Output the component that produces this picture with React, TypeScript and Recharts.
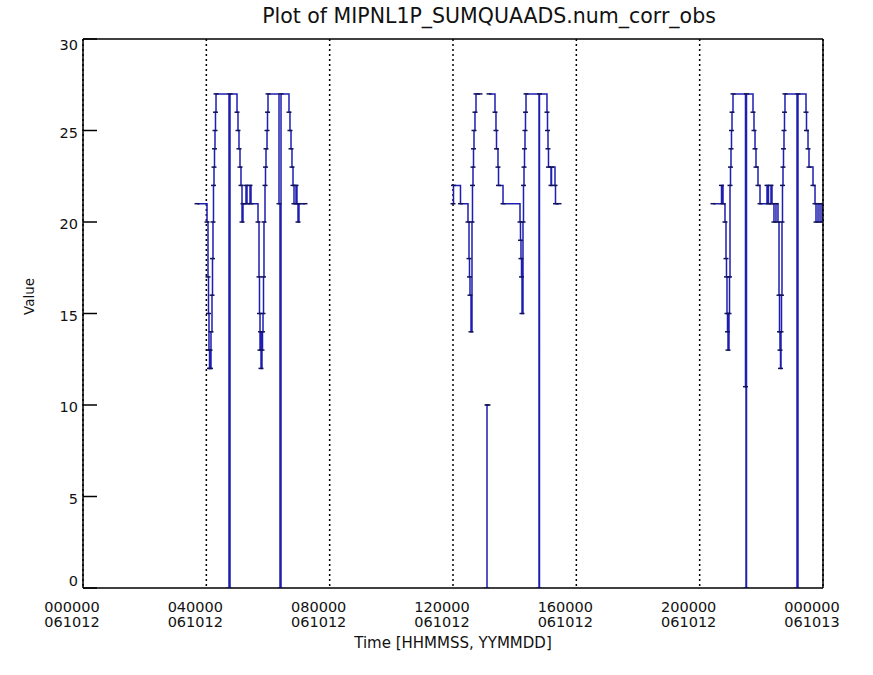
import { LineChart, Line, XAxis, YAxis, CartesianGrid, ReferenceLine } from "recharts";

// [hours since 000000 061012, num_corr_obs]
const pass1: [number, number | null][] = [
  [3.697, 21], [4.022, 20], [4.054, 17], [4.07, 15], [4.086, 13], [4.103, 12], [4.119, 13], [4.135, 12],
  [4.151, 14], [4.184, 16], [4.2, 18], [4.216, 20], [4.232, 22], [4.249, 23], [4.265, 24], [4.281, 25],
  [4.297, 26], [4.314, 27], [4.735, 0], [4.768, 27], [4.995, 26], [5.027, 25], [5.059, 24], [5.092, 23],
  [5.124, 22], [5.157, 20], [5.189, 21], [5.286, 22], [5.319, 21], [5.416, 22], [5.449, 21], [5.676, 20],
  [5.708, 17], [5.724, 15], [5.741, 13], [5.757, 14], [5.773, 12], [5.805, 13], [5.822, 14], [5.838, 15],
  [5.854, 17], [5.87, 20], [5.903, 22], [5.919, 23], [5.935, 24], [5.968, 25], [5.984, 26], [6.0, 27],
  [6.357, 21], [6.389, 0], [6.422, 27], [6.681, 26], [6.713, 25], [6.746, 24], [6.778, 23], [6.811, 22],
  [6.843, 21], [6.908, 22], [6.94, 21], [6.973, 20], [7.005, 21], [7.2, 21],
];

const pass2: [number, number | null][] = [
  [12.0, 21], [12.016, 22], [12.243, 21], [12.486, 20], [12.519, 18], [12.535, 17], [12.551, 16], [12.584, 14],
  [12.616, 20], [12.632, 22], [12.649, 23], [12.665, 24], [12.681, 25], [12.713, 26], [12.746, 27], [12.875, 27],
  [12.973, null], [13.086, 0], [13.103, 10], [13.135, 10], [13.151, null],
  [13.168, 27], [13.362, 26], [13.394, 25], [13.411, 24], [13.459, 23], [13.476, 22], [13.622, 21], [14.173, 20],
  [14.189, 19], [14.205, 18], [14.222, 17], [14.238, 15], [14.27, 20], [14.286, 22], [14.303, 23], [14.319, 24],
  [14.335, 25], [14.351, 26], [14.368, 27], [14.789, 0], [14.805, 27], [15.048, 26], [15.065, 25], [15.081, 24],
  [15.097, 23], [15.178, 22], [15.195, 23], [15.308, 22], [15.324, 21], [15.438, 21],
];

const pass3: [number, number | null][] = [
  [20.432, 21], [20.708, 22], [20.757, 21], [20.821, 20], [20.854, 18], [20.87, 17], [20.886, 15], [20.903, 14],
  [20.919, 13], [20.951, 15], [20.968, 17], [20.984, 22], [21.0, 23], [21.016, 24], [21.032, 25], [21.049, 26],
  [21.081, 27], [21.486, 11], [21.503, 0], [21.519, 27], [21.73, 26], [21.762, 25], [21.795, 24], [21.827, 23],
  [21.892, 22], [21.957, 21], [22.184, 22], [22.232, 21], [22.313, 22], [22.346, 21], [22.41, 20], [22.475, 21],
  [22.54, 20], [22.573, 16], [22.589, 14], [22.605, 13], [22.622, 12], [22.638, 14], [22.654, 16], [22.67, 20],
  [22.686, 22], [22.703, 23], [22.719, 24], [22.735, 25], [22.751, 26], [22.767, 27], [23.157, 0], [23.189, 27],
  [23.449, 26], [23.465, 25], [23.514, 24], [23.546, 23], [23.676, 22], [23.741, 21], [23.773, 20], [23.838, 21],
  [23.903, 20], [23.968, 21], [24.0, 21],
];

const hourTicks = [0, 4, 8, 12, 16, 20, 24];
const timeLabels = ["000000", "040000", "080000", "120000", "160000", "200000", "000000"];
const dateLabels = ["061012", "061012", "061012", "061012", "061012", "061012", "061013"];
const valueTicks = [0, 5, 10, 15, 20, 25, 30];

const rows = [...pass1, [7.3, null], ...pass2, [15.5, null], ...pass3].map(([t, v]) => ({ t, v }));

const font = "DejaVu Sans";
const ink = "#111";

// the two-line labels hang a bit left of their tick, like the IDL original
function TimeTick({ x, y, payload }: any) {
  const i = hourTicks.indexOf(payload.value);
  return (
    <g fontFamily={font} fontSize={14.5} fill={ink}>
      <text x={x - 11} y={y + 16} textAnchor="middle">{timeLabels[i]}</text>
      <text x={x - 11} y={y + 31} textAnchor="middle">{dateLabels[i]}</text>
    </g>
  );
}

// edge labels sit a little inside the frame
function ValueTick({ x, y, payload }: any) {
  const shift = payload.value === 30 ? 6 : payload.value === 0 ? -7 : 2;
  return (
    <text x={x + 1} y={y + shift} dy="0.36em" textAnchor="end" fontFamily={font} fontSize={14.5} fill={ink}>
      {payload.value}
    </text>
  );
}

function Dash({ cx, cy }: any) {
  if (cx == null || cy == null || isNaN(cy)) return <g />;
  return <line x1={cx - 2.5} x2={cx + 2.5} y1={cy} y2={cy} stroke="#14145a" strokeWidth={1.5} />;
}

export default function App() {
  return (
    <div style={{ position: "absolute", left: 0, top: 0, width: 873, height: 675, background: "#fff" }}>
      <div
        style={{
          position: "absolute", left: 119, top: 3, width: 740, textAlign: "center",
          fontFamily: font, fontSize: 20.5, color: ink, lineHeight: "26px",
        }}
      >
        Plot of MIPNL1P_SUMQUAADS.num_corr_obs
      </div>
      <LineChart width={873} height={675} data={rows} margin={{ top: 39, right: 0, bottom: 0, left: 0 }}>
        <CartesianGrid horizontal={false} stroke="#000" strokeDasharray="2 3" strokeWidth={1.5} />
        <XAxis
          dataKey="t" type="number" domain={[0, 24]} ticks={hourTicks} interval={0} allowDataOverflow
          height={87} tickLine={false} axisLine={{ stroke: "#000", strokeWidth: 1.5 }} tick={<TimeTick />}
          label={{ value: "Time [HHMMSS, YYMMDD]", position: "insideBottom", offset: 27, fontSize: 15, fill: ink, fontFamily: font }}
        />
        <YAxis
          type="number" domain={[0, 30]} ticks={valueTicks} interval={0} allowDataOverflow width={83}
          tickSize={-14} tickMargin={20} axisLine={{ stroke: "#000", strokeWidth: 1.5 }}
          tickLine={{ stroke: "#000", strokeWidth: 1.5 }} tick={<ValueTick />}
          label={{ value: "Value", angle: -90, position: "center", dx: -12, dy: -17, fontSize: 13.5, fill: ink, fontFamily: font }}
        />
        <YAxis
          yAxisId="right" orientation="right" type="number" domain={[0, 30]} ticks={valueTicks} interval={0}
          allowDataOverflow width={50} tick={false} tickSize={-15}
          axisLine={{ stroke: "#000", strokeWidth: 1.5 }} tickLine={{ stroke: "#000", strokeWidth: 1.5 }}
        />
        <ReferenceLine y={30} stroke="#000" strokeWidth={1.5} />
        <Line
          dataKey="v" type="stepAfter" stroke="#1e1eb0" strokeWidth={1.5} connectNulls={false}
          dot={<Dash />} activeDot={false} isAnimationActive={false}
        />
      </LineChart>
    </div>
  );
}
